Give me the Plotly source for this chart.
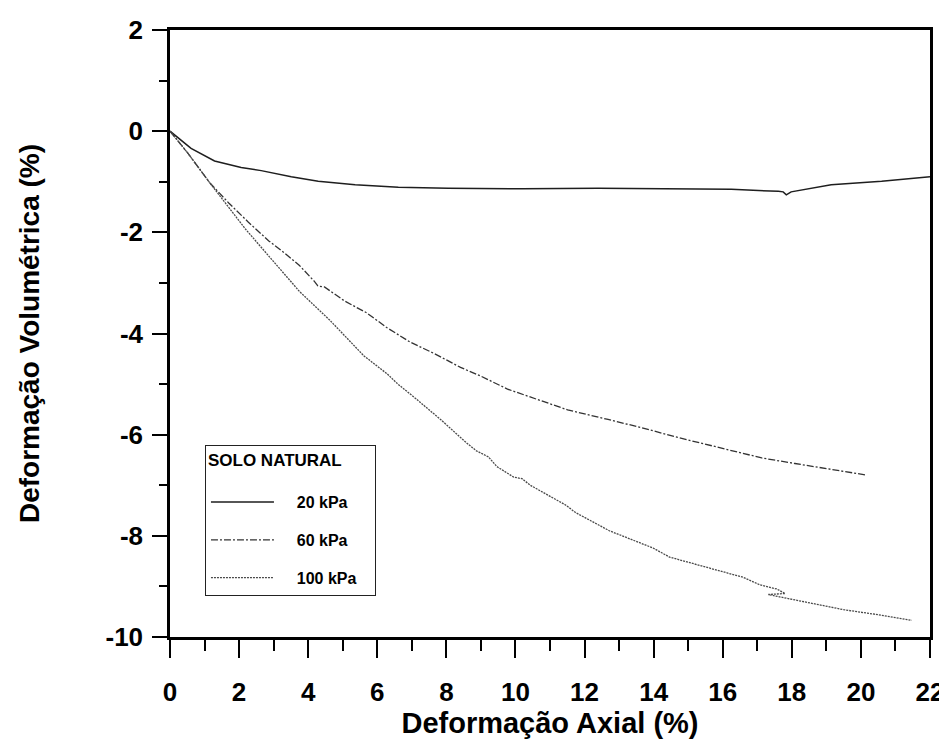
import plotly.graph_objects as go

# Axial strain (%) and volumetric strain (%)
x_20 = [0, 0.07, 0.61, 1.29, 2.06, 2.64, 3.51, 4.29, 5.36, 6.61, 8.05, 10.2, 12.39, 14.3, 16.25,
        17.61, 17.75, 17.84, 17.98, 19.14, 20.6, 22.0]
y_20 = [0, -0.04, -0.34, -0.59, -0.72, -0.78, -0.90, -0.99, -1.06, -1.11, -1.13, -1.14, -1.13, -1.14, -1.15,
        -1.19, -1.20, -1.26, -1.20, -1.06, -0.99, -0.90]

x_60 = [0, 0.5, 1.15, 1.7, 2.27, 2.86, 3.3, 3.74, 4.18, 4.28, 4.47, 4.71, 5.06, 5.69, 6.27, 6.95, 7.63,
        8.41, 8.99, 9.77, 10.74, 11.51, 12.68, 13.64, 14.61, 15.58, 16.55, 17.13, 18.09, 18.87, 20.17]
y_60 = [0, -0.42, -1.02, -1.42, -1.80, -2.17, -2.40, -2.65, -2.97, -3.06, -3.08, -3.20, -3.36, -3.59, -3.88,
        -4.17, -4.39, -4.67, -4.84, -5.10, -5.32, -5.51, -5.70, -5.86, -6.04, -6.20, -6.35, -6.46, -6.57, -6.66, -6.80]

x_100 = [0, 0.5, 1.15, 1.7, 2.19, 3.0, 3.75, 4.63, 5.36, 5.61, 6.29, 6.58, 7.12, 7.85, 8.58, 8.87, 9.22,
         9.46, 9.95, 10.19, 10.43, 10.77, 11.45, 11.74, 12.72, 13.98, 14.46, 15.63, 16.59, 17.08, 17.56,
         17.81, 17.32, 17.6, 18.34, 19.5, 20.5, 21.47]
y_100 = [0, -0.42, -1.02, -1.50, -1.94, -2.58, -3.17, -3.74, -4.25, -4.44, -4.80, -4.99, -5.29, -5.71, -6.16,
         -6.32, -6.44, -6.63, -6.84, -6.87, -7.00, -7.13, -7.39, -7.54, -7.90, -8.24, -8.42, -8.64, -8.82, -8.97,
         -9.05, -9.14, -9.16, -9.20, -9.30, -9.46, -9.56, -9.67]

legend_title = "SOLO NATURAL"
names = ["20 kPa", "60 kPa", "100 kPa"]
x_ticks = list(range(0, 23, 2))
x_ticktext = [str(v) for v in x_ticks]
y_ticks = list(range(-10, 3, 2))
y_ticktext = [str(v) for v in y_ticks]  # plain hyphen minus, as in the original

FONT = "Liberation Sans, Arial, sans-serif"
PAD = "\u00a0\u00a0\u00a0\u00a0"
TAIL = "\u00a0\u00a0\u00a0"

fig = go.Figure()
fig.add_trace(go.Scatter(x=x_20, y=y_20, mode="lines", name=PAD + names[0] + TAIL, legendgroup="a",
                         line=dict(color="#1e1e1e", width=1.5, dash="solid")))
fig.add_trace(go.Scatter(x=x_60, y=y_60, mode="lines", name=PAD + names[1] + TAIL, legendgroup="b",
                         line=dict(color="#333333", width=1.3, dash="7px,2px,2px,2px")))
fig.add_trace(go.Scatter(x=x_100, y=y_100, mode="lines", name=PAD + names[2] + TAIL, legendgroup="c",
                         line=dict(color="#4a4a4a", width=1.3, dash="2px,1px")))

axis_common = dict(
    showgrid=False, zeroline=False, showline=True, linecolor="black", linewidth=2.5,
    mirror=True, ticks="outside", tickcolor="black", tickwidth=2,
    tickfont=dict(family=FONT, size=26, color="black", weight="bold"),
)

fig.update_xaxes(
    range=[0, 22], tickvals=x_ticks, ticktext=x_ticktext, ticklen=18, ticklabelstandoff=12,
    minor=dict(dtick=1, tick0=0, ticks="outside", ticklen=11, tickwidth=2, tickcolor="black"),
    title=dict(text="Deformação Axial (%)", font=dict(family=FONT, size=29, color="black", weight="bold"),
               standoff=0),
    **axis_common,
)
fig.update_yaxes(
    range=[-10, 2], tickvals=y_ticks, ticktext=y_ticktext, ticklen=15, ticklabelstandoff=4,
    minor=dict(dtick=1, tick0=0, ticks="outside", ticklen=8, tickwidth=2, tickcolor="black"),
    title=dict(text="Deformação Volumétrica (%)", font=dict(family=FONT, size=28, color="black", weight="bold"),
               standoff=58),
    **axis_common,
)

fig.update_layout(
    width=947, height=746,
    margin=dict(l=162, r=25, t=22, b=117, autoexpand=False),
    paper_bgcolor="white", plot_bgcolor="white",
    showlegend=True,
    legend=dict(
        title=dict(text="<span style='font-size:17px'>" + legend_title + "</span>"
                        + "<br><span style='font-size:5px'>\u00a0</span>",
                   font=dict(family=FONT, size=15, color="black", weight="bold")),
        x=0.046, y=0.316, xanchor="left", yanchor="top",
        bgcolor="white", bordercolor="#222222", borderwidth=1,
        font=dict(family=FONT, size=16, color="black", weight="bold"),
        itemwidth=63, traceorder="grouped", tracegroupgap=14,
    ),
)

fig.write_html("out.html")
